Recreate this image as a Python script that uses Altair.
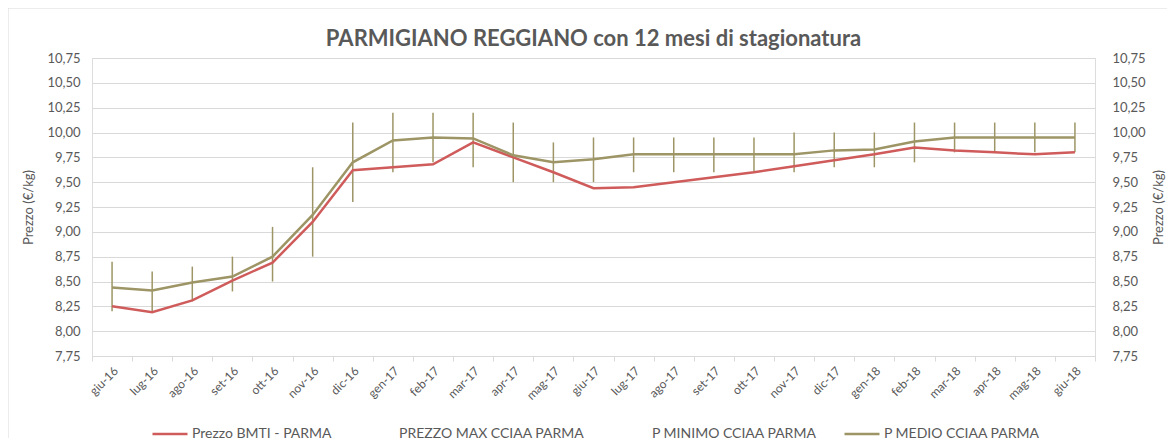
import altair as alt
import pandas as pd

months = ["giu-16", "lug-16", "ago-16", "set-16", "ott-16", "nov-16", "dic-16",
          "gen-17", "feb-17", "mar-17", "apr-17", "mag-17", "giu-17", "lug-17",
          "ago-17", "set-17", "ott-17", "nov-17", "dic-17", "gen-18", "feb-18",
          "mar-18", "apr-18", "mag-18", "giu-18"]

bmti = [8.25, 8.19, 8.31, 8.51, 8.69, 9.10, 9.62, 9.65, 9.68, 9.90, 9.75, 9.60,
        9.44, 9.45, 9.50, 9.55, 9.60, 9.66, 9.72, 9.78, 9.85, 9.82, 9.80, 9.78, 9.80]
p_max = [8.70, 8.60, 8.65, 8.75, 9.05, 9.65, 10.10, 10.20, 10.20, 10.20, 10.10, 9.90,
         9.95, 9.95, 9.95, 9.95, 9.95, 10.00, 10.00, 10.00, 10.10, 10.10, 10.10, 10.10, 10.10]
p_min = [8.20, 8.20, 8.30, 8.40, 8.50, 8.75, 9.30, 9.60, 9.70, 9.65, 9.50, 9.50,
         9.50, 9.60, 9.60, 9.60, 9.60, 9.60, 9.65, 9.65, 9.70, 9.80, 9.80, 9.80, 9.80]
p_medio = [8.44, 8.41, 8.49, 8.55, 8.75, 9.17, 9.70, 9.92, 9.95, 9.94, 9.77, 9.70,
           9.73, 9.78, 9.78, 9.78, 9.78, 9.78, 9.82, 9.83, 9.91, 9.95, 9.95, 9.95, 9.95]

series_names = ["Prezzo BMTI - PARMA", "PREZZO MAX CCIAA PARMA",
                "P MINIMO CCIAA PARMA", "P MEDIO CCIAA PARMA"]
y_ticks = [7.75, 8.00, 8.25, 8.50, 8.75, 9.00, 9.25, 9.50, 9.75, 10.00, 10.25, 10.50, 10.75]

RED = "#cf5b5b"
OLIVE = "#9d9565"
TXT = "#595959"
GRID = "#d9d9d9"
FONT = "Lato"

rows = []
for i, m in enumerate(months):
    rows.append({"mese": m, "serie": series_names[0], "valore": bmti[i],
                 "max": p_max[i], "min": p_min[i]})
    rows.append({"mese": m, "serie": series_names[3], "valore": p_medio[i],
                 "max": p_max[i], "min": p_min[i]})
df = pd.DataFrame(rows)

ydom = [y_ticks[0], y_ticks[-1]]
label_expr = "replace(format(datum.value, '.2f'), '.', ',')"

x_enc = alt.X("mese:N", sort=months, title=None,
              scale=alt.Scale(paddingInner=0, paddingOuter=0),
              axis=alt.Axis(labelAngle=-45, labelFontSize=12, labelColor=TXT,
                            labelFont=FONT, tickBand="extent", tickColor=GRID,
                            tickSize=5, domainColor=GRID, labelPadding=4,
                            grid=False))

color_enc = alt.Color("serie:N",
                      scale=alt.Scale(domain=series_names,
                                      range=[RED, "transparent", "transparent", OLIVE]),
                      legend=alt.Legend(title=None, orient="none", legendX=59, legendY=357,
                                        direction="horizontal", columns=4,
                                        gridAlign="none", columnPadding=22,
                                        symbolType="stroke", symbolSize=1225,
                                        symbolStrokeWidth=2.5, labelFont=FONT,
                                        labelFontSize=14, labelColor=TXT,
                                        labelOffset=3, labelLimit=300))

base = alt.Chart(df)

rules = base.transform_filter(alt.datum.serie == series_names[3]).mark_rule(
    color=OLIVE, strokeWidth=1.5).encode(
    x=x_enc,
    y=alt.Y("min:Q", scale=alt.Scale(domain=ydom, nice=False, zero=False), axis=None),
    y2="max:Q")

red_line = base.transform_filter(alt.datum.serie == series_names[0]).mark_line(
    strokeWidth=2.5).encode(
    x=x_enc,
    y=alt.Y("valore:Q", scale=alt.Scale(domain=ydom, nice=False, zero=False),
            title="Prezzo (€/kg)",
            axis=alt.Axis(orient="left", values=y_ticks, labelExpr=label_expr,
                          grid=True, gridColor=GRID, gridWidth=1, domain=False,
                          ticks=False, labelPadding=12, labelFont=FONT,
                          labelFontSize=13, labelColor=TXT, titleFont=FONT,
                          titleFontSize=13, titleColor=TXT, titleFontWeight="normal",
                          titlePadding=11)),
    color=color_enc)

olive_line = base.transform_filter(alt.datum.serie == series_names[3]).mark_line(
    strokeWidth=2.5).encode(
    x=x_enc,
    y=alt.Y("valore:Q", scale=alt.Scale(domain=ydom, nice=False, zero=False),
            title="Prezzo (€/kg)",
            axis=alt.Axis(orient="right", values=y_ticks, labelExpr=label_expr,
                          grid=False, domain=False, ticks=False, labelPadding=17,
                          labelFont=FONT, labelFontSize=13, labelColor=TXT,
                          titleFont=FONT, titleFontSize=13, titleColor=TXT,
                          titleFontWeight="normal", titlePadding=7,
                          titleAngle=270, titleBaseline="top")),
    color=color_enc)

border = alt.Chart(pd.DataFrame({"k": [0]})).mark_rule(color=GRID, strokeWidth=1).encode(
    x=alt.value(-84), x2=alt.value(1080), y=alt.value(-50), y2=alt.value(-50))
border_l = alt.Chart(pd.DataFrame({"k": [0]})).mark_rule(color=GRID, strokeWidth=1).encode(
    x=alt.value(-84), x2=alt.value(-84), y=alt.value(-50), y2=alt.value(380))

chart = alt.layer(border, border_l, rules, red_line, olive_line).resolve_scale(
    y="independent").properties(
    width=1003, height=298,
    title=alt.TitleParams("PARMIGIANO REGGIANO con 12 mesi di stagionatura",
                          font=FONT, fontSize=22, fontWeight="bold", color=TXT,
                          anchor="middle", frame="group", offset=0, dy=43),
    padding={"left": 84, "top": 50, "right": 72, "bottom": 84},
    autosize=alt.AutoSizeParams(type="none"),
).configure_view(stroke=None).configure(background="white")

chart.save("out.html", embed_options={"renderer": "svg", "actions": False})
